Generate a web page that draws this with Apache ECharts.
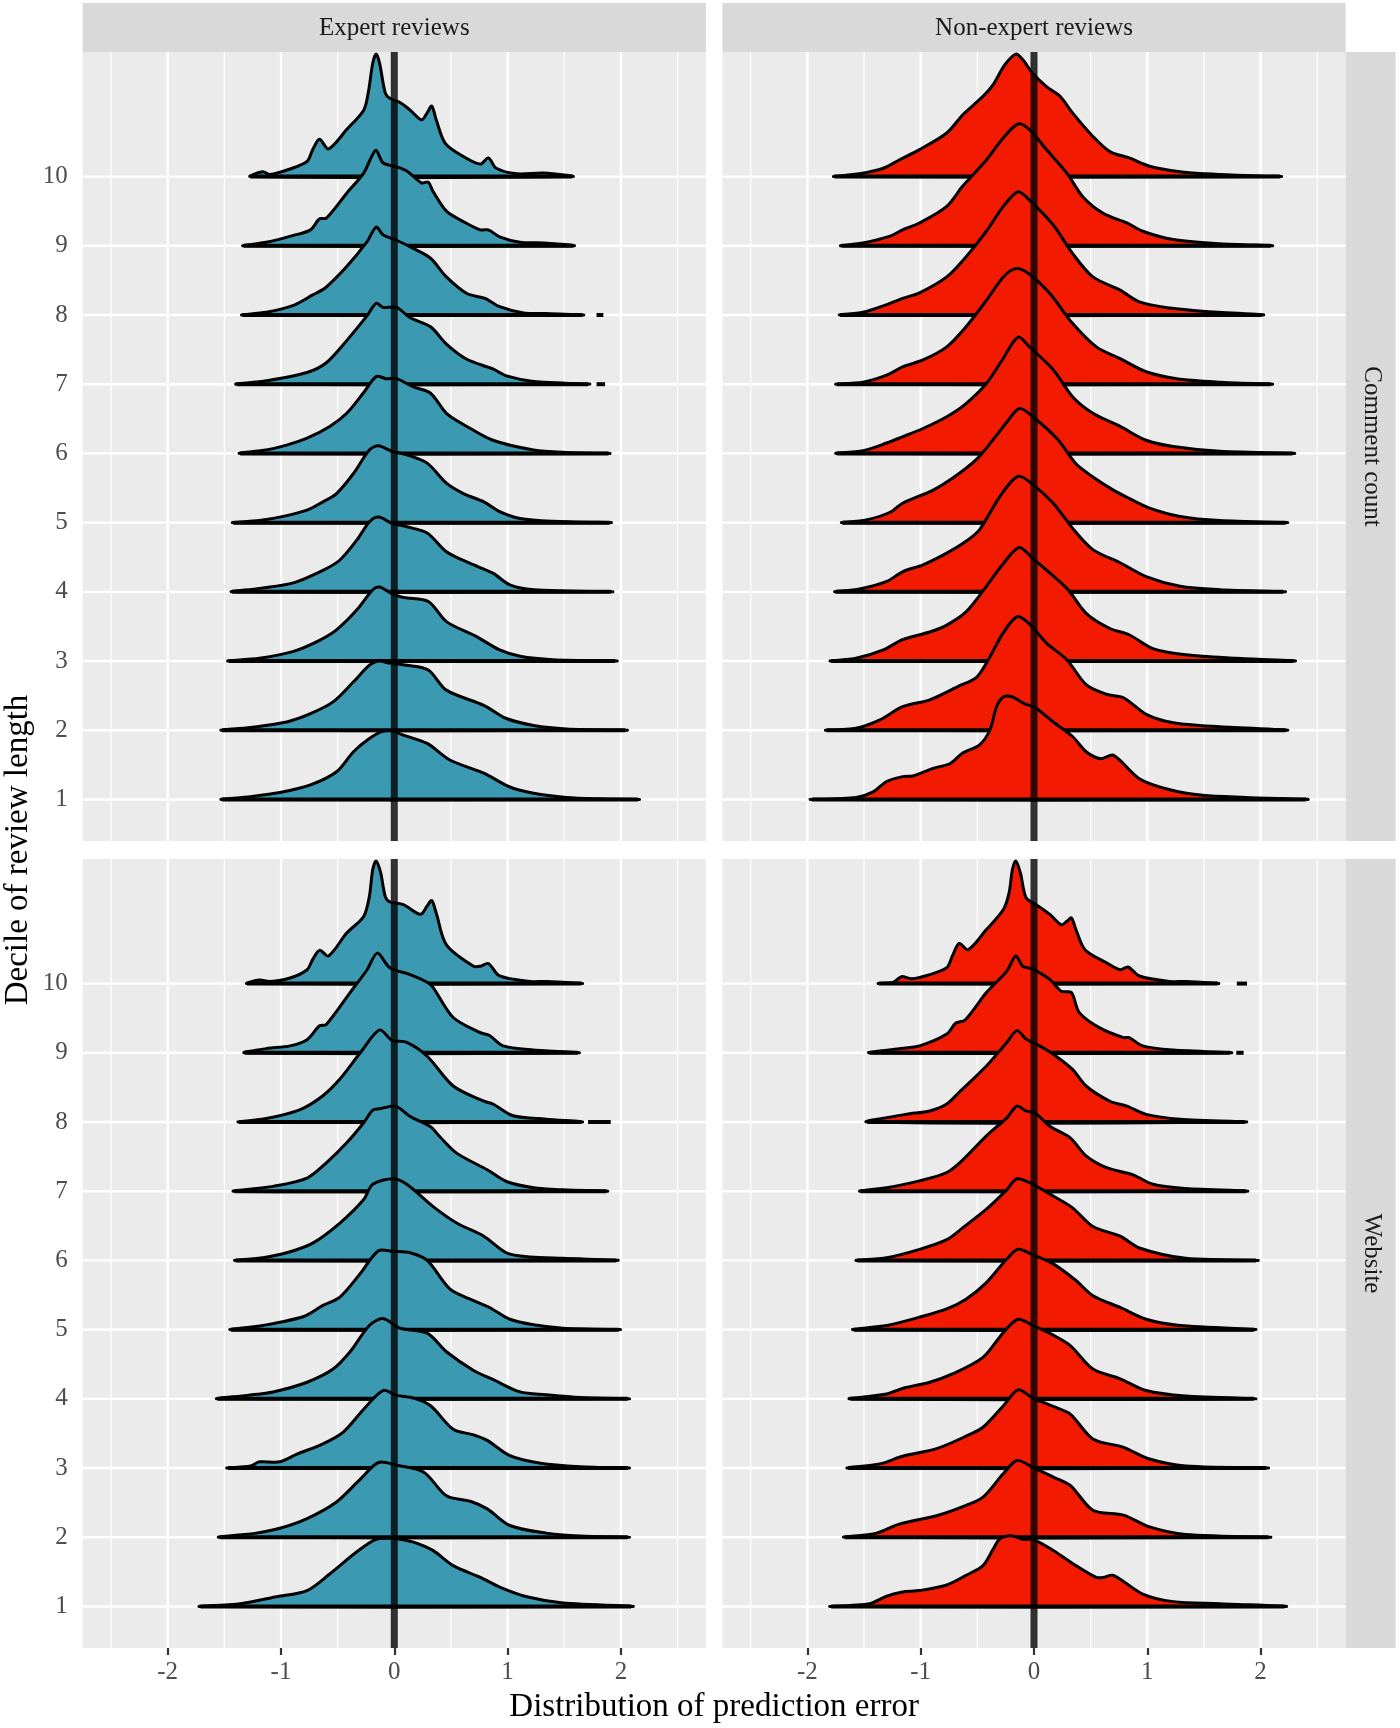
<!DOCTYPE html>
<html>
<head>
<meta charset="utf-8">
<script src="https://cdn.jsdelivr.net/npm/echarts@6/dist/echarts.min.js"></script>
<style>
html,body{margin:0;padding:0;background:#ffffff;}
#chart{width:1400px;height:1728px;}
</style>
</head>
<body>
<div id="chart"></div>
<script>
// ---------------- DATA ----------------
const reviewerTypes = ['Expert reviews', 'Non-expert reviews'];
const splitBy = ['Comment count', 'Website'];
const deciles = [1, 2, 3, 4, 5, 6, 7, 8, 9, 10];
const xTickValues = [-2, -1, 0, 1, 2];
const xMinorValues = [-2.5, -1.5, -0.5, 0.5, 1.5, 2.5];
const referenceLine = [0];
const xTitle = 'Distribution of prediction error';
const yTitle = 'Decile of review length';

// Each ridge: [prediction error, density height in decile units]; index 0 = decile 1
const expertCommentRidges = [
  [[-1.52,0],[-1.27,0.04],[-1.01,0.10],[-0.74,0.21],[-0.51,0.40],[-0.36,0.69],[-0.22,0.88],[-0.11,0.98],[-0.02,0.99],[0.08,0.93],[0.29,0.81],[0.49,0.57],[0.79,0.38],[1.02,0.18],[1.23,0.09],[1.52,0.03],[1.80,0.01],[2.15,0]],
  [[-1.52,0],[-1.27,0.04],[-0.95,0.12],[-0.74,0.24],[-0.54,0.41],[-0.36,0.70],[-0.22,0.94],[-0.14,1.00],[-0.04,0.97],[0.11,0.94],[0.30,0.87],[0.46,0.58],[0.79,0.36],[0.99,0.17],[1.23,0.07],[1.52,0.02],[2.04,0]],
  [[-1.46,0],[-1.19,0.04],[-0.89,0.14],[-0.66,0.30],[-0.51,0.45],[-0.33,0.74],[-0.19,1.03],[-0.13,1.07],[-0.04,0.99],[0.08,0.92],[0.30,0.86],[0.46,0.57],[0.73,0.35],[0.93,0.16],[1.11,0.07],[1.40,0.02],[1.95,0]],
  [[-1.43,0],[-1.19,0.05],[-0.89,0.13],[-0.63,0.31],[-0.48,0.46],[-0.33,0.75],[-0.22,1.01],[-0.14,1.08],[-0.02,0.99],[0.11,0.94],[0.29,0.85],[0.46,0.58],[0.67,0.41],[0.87,0.27],[1.02,0.10],[1.23,0.03],[1.91,0]],
  [[-1.42,0],[-1.19,0.03],[-0.98,0.09],[-0.77,0.18],[-0.63,0.30],[-0.51,0.42],[-0.36,0.71],[-0.22,1.05],[-0.14,1.11],[-0.02,1.03],[0.11,0.98],[0.29,0.86],[0.46,0.57],[0.61,0.42],[0.79,0.30],[0.93,0.16],[1.11,0.06],[1.40,0.02],[1.90,0]],
  [[-1.36,0],[-1.13,0.05],[-0.95,0.12],[-0.77,0.22],[-0.57,0.39],[-0.42,0.58],[-0.27,0.88],[-0.16,1.11],[-0.07,1.08],[0.02,1.08],[0.17,0.96],[0.32,0.87],[0.46,0.58],[0.64,0.39],[0.87,0.19],[1.23,0.05],[1.52,0.015],[1.89,0]],
  [[-1.39,0],[-1.13,0.05],[-0.77,0.17],[-0.60,0.31],[-0.42,0.63],[-0.24,0.99],[-0.16,1.17],[-0.10,1.11],[0.02,1.11],[0.14,0.96],[0.32,0.83],[0.46,0.58],[0.64,0.36],[0.87,0.22],[0.99,0.12],[1.23,0.04],[1.71,0]],
  [[-1.34,0],[-1.13,0.04],[-0.89,0.14],[-0.72,0.29],[-0.61,0.39],[-0.42,0.70],[-0.24,1.06],[-0.16,1.27],[-0.10,1.16],[0.02,1.08],[0.17,0.96],[0.32,0.82],[0.46,0.55],[0.64,0.31],[0.80,0.24],[0.93,0.12],[1.14,0.03],[1.34,0.02],[1.66,0]],
  [[-1.33,0],[-1.13,0.05],[-0.89,0.15],[-0.74,0.23],[-0.66,0.39],[-0.60,0.40],[-0.42,0.76],[-0.27,1.05],[-0.20,1.29],[-0.16,1.38],[-0.10,1.20],[0.02,1.14],[0.11,1.08],[0.24,0.91],[0.30,0.92],[0.34,0.79],[0.46,0.50],[0.61,0.35],[0.76,0.23],[0.83,0.23],[0.93,0.13],[1.11,0.05],[1.32,0.04],[1.58,0]],
  [[-1.27,0],[-1.16,0.07],[-1.10,0.03],[-0.92,0.11],[-0.77,0.22],[-0.72,0.39],[-0.66,0.54],[-0.58,0.40],[-0.42,0.68],[-0.27,0.96],[-0.23,1.21],[-0.19,1.64],[-0.16,1.77],[-0.13,1.64],[-0.08,1.21],[-0.04,1.13],[0.05,1.07],[0.14,0.96],[0.24,0.82],[0.29,0.92],[0.33,1.02],[0.37,0.82],[0.45,0.48],[0.61,0.29],[0.76,0.18],[0.83,0.27],[0.90,0.12],[1.08,0.04],[1.32,0.05],[1.57,0]]
];

const nonExpertCommentRidges = [
  [[-1.96,0],[-1.57,0.03],[-1.42,0.11],[-1.30,0.26],[-1.16,0.33],[-1.07,0.34],[-0.89,0.45],[-0.74,0.52],[-0.63,0.67],[-0.48,0.79],[-0.39,1.00],[-0.33,1.34],[-0.27,1.48],[-0.19,1.48],[-0.08,1.38],[0.01,1.33],[0.17,1.12],[0.34,0.91],[0.46,0.69],[0.59,0.59],[0.70,0.64],[0.93,0.30],[1.20,0.14],[1.49,0.06],[1.87,0.03],[2.40,0]],
  [[-1.83,0],[-1.57,0.03],[-1.36,0.15],[-1.16,0.34],[-0.92,0.44],[-0.66,0.64],[-0.51,0.76],[-0.42,0.97],[-0.27,1.41],[-0.15,1.64],[-0.05,1.55],[0.11,1.26],[0.29,1.02],[0.46,0.66],[0.64,0.52],[0.79,0.47],[0.99,0.23],[1.23,0.11],[1.64,0.05],[2.22,0]],
  [[-1.79,0],[-1.57,0.04],[-1.33,0.16],[-1.16,0.31],[-0.92,0.42],[-0.77,0.52],[-0.60,0.71],[-0.42,1.08],[-0.27,1.41],[-0.13,1.64],[-0.01,1.48],[0.29,1.05],[0.46,0.69],[0.67,0.47],[0.84,0.38],[1.05,0.18],[1.34,0.09],[1.79,0.04],[2.29,0]],
  [[-1.75,0],[-1.54,0.04],[-1.30,0.15],[-1.16,0.29],[-0.98,0.39],[-0.77,0.56],[-0.60,0.73],[-0.48,0.90],[-0.30,1.38],[-0.14,1.67],[-0.01,1.55],[0.17,1.28],[0.34,0.92],[0.52,0.61],[0.76,0.42],[0.99,0.22],[1.29,0.08],[1.64,0.03],[2.20,0]],
  [[-1.69,0],[-1.48,0.04],[-1.27,0.15],[-1.16,0.28],[-0.89,0.47],[-0.72,0.64],[-0.51,0.91],[-0.36,1.20],[-0.24,1.45],[-0.13,1.65],[-0.01,1.53],[0.21,1.20],[0.37,0.85],[0.52,0.66],[0.70,0.47],[0.84,0.35],[1.02,0.21],[1.29,0.09],[1.64,0.03],[2.22,0]],
  [[-1.74,0],[-1.51,0.04],[-1.30,0.15],[-1.16,0.24],[-0.98,0.36],[-0.77,0.53],[-0.60,0.72],[-0.42,1.01],[-0.28,1.35],[-0.14,1.68],[-0.04,1.54],[0.17,1.21],[0.34,0.82],[0.52,0.58],[0.76,0.39],[0.99,0.19],[1.23,0.10],[1.64,0.03],[2.28,0]],
  [[-1.74,0],[-1.51,0.03],[-1.30,0.13],[-1.16,0.25],[-0.98,0.35],[-0.77,0.54],[-0.60,0.83],[-0.42,1.21],[-0.27,1.55],[-0.16,1.67],[-0.04,1.59],[0.14,1.31],[0.34,0.88],[0.55,0.54],[0.76,0.37],[0.99,0.18],[1.26,0.08],[1.64,0.03],[2.09,0]],
  [[-1.71,0],[-1.51,0.04],[-1.30,0.15],[-1.16,0.24],[-1.01,0.32],[-0.77,0.55],[-0.60,0.84],[-0.42,1.21],[-0.27,1.57],[-0.14,1.78],[-0.04,1.66],[0.17,1.30],[0.34,0.89],[0.52,0.55],[0.76,0.36],[0.93,0.19],[1.20,0.10],[1.52,0.05],[2.01,0]],
  [[-1.70,0],[-1.51,0.04],[-1.27,0.14],[-1.16,0.23],[-1.01,0.33],[-0.77,0.57],[-0.63,0.86],[-0.42,1.24],[-0.27,1.56],[-0.14,1.76],[-0.04,1.68],[0.11,1.39],[0.29,1.05],[0.43,0.71],[0.61,0.47],[0.82,0.33],[0.96,0.21],[1.23,0.09],[1.64,0.03],[2.09,0]],
  [[-1.76,0],[-1.54,0.04],[-1.33,0.12],[-1.19,0.24],[-1.01,0.39],[-0.77,0.63],[-0.63,0.89],[-0.45,1.16],[-0.36,1.33],[-0.26,1.61],[-0.16,1.77],[-0.10,1.69],[-0.01,1.49],[0.11,1.30],[0.23,1.16],[0.34,0.92],[0.52,0.58],[0.67,0.36],[0.84,0.27],[1.02,0.15],[1.29,0.07],[1.52,0.04],[1.79,0.02],[2.17,0]]
];

const expertWebsiteRidges = [
  [[-1.71,0],[-1.36,0.04],[-1.04,0.14],[-0.77,0.23],[-0.57,0.47],[-0.33,0.79],[-0.16,0.97],[0.02,0.98],[0.17,0.93],[0.34,0.81],[0.52,0.59],[0.76,0.42],[0.93,0.28],[1.17,0.14],[1.49,0.05],[2.09,0]],
  [[-1.54,0],[-1.22,0.06],[-1.01,0.13],[-0.77,0.27],[-0.51,0.51],[-0.30,0.84],[-0.14,1.08],[0.02,1.04],[0.26,0.94],[0.46,0.60],[0.67,0.52],[0.82,0.41],[1.02,0.17],[1.34,0.06],[1.64,0.02],[2.06,0]],
  [[-1.47,0],[-1.27,0.03],[-1.19,0.09],[-1.01,0.09],[-0.86,0.20],[-0.63,0.35],[-0.45,0.52],[-0.27,0.85],[-0.10,1.12],[0.02,1.05],[0.17,1.01],[0.32,0.90],[0.52,0.56],[0.70,0.48],[0.82,0.40],[1.02,0.18],[1.29,0.07],[1.64,0.02],[2.06,0]],
  [[-1.56,0],[-1.30,0.05],[-1.07,0.10],[-0.77,0.24],[-0.54,0.43],[-0.39,0.68],[-0.22,1.06],[-0.10,1.16],[0.05,1.02],[0.29,0.95],[0.46,0.68],[0.70,0.41],[0.87,0.28],[1.11,0.10],[1.34,0.06],[1.64,0.02],[2.06,0]],
  [[-1.44,0],[-1.16,0.06],[-0.80,0.19],[-0.63,0.35],[-0.48,0.47],[-0.30,0.81],[-0.14,1.14],[-0.01,1.13],[0.14,1.11],[0.29,1.00],[0.49,0.59],[0.67,0.44],[0.84,0.32],[1.02,0.15],[1.23,0.07],[1.49,0.02],[1.98,0]],
  [[-1.40,0],[-1.16,0.04],[-0.95,0.11],[-0.72,0.25],[-0.48,0.54],[-0.27,0.88],[-0.19,1.10],[-0.01,1.18],[0.11,1.10],[0.34,0.78],[0.55,0.54],[0.79,0.35],[0.99,0.11],[1.20,0.05],[1.49,0.03],[1.96,0]],
  [[-1.41,0],[-1.07,0.07],[-0.77,0.19],[-0.60,0.41],[-0.42,0.70],[-0.27,0.99],[-0.19,1.17],[-0.13,1.19],[0.01,1.23],[0.14,1.08],[0.32,0.93],[0.40,0.79],[0.55,0.55],[0.82,0.31],[0.99,0.14],[1.23,0.05],[1.49,0.02],[1.87,0]],
  [[-1.37,0],[-1.13,0.05],[-0.83,0.18],[-0.63,0.38],[-0.48,0.62],[-0.30,1.00],[-0.13,1.33],[-0.02,1.18],[0.11,1.15],[0.29,0.95],[0.52,0.52],[0.79,0.30],[0.87,0.26],[1.05,0.09],[1.34,0.04],[1.65,0]],
  [[-1.32,0],[-1.13,0.06],[-0.92,0.10],[-0.77,0.19],[-0.66,0.39],[-0.60,0.41],[-0.39,0.87],[-0.24,1.20],[-0.15,1.44],[-0.04,1.23],[0.14,1.13],[0.29,1.02],[0.34,0.95],[0.52,0.51],[0.76,0.29],[0.84,0.25],[0.96,0.10],[1.23,0.04],[1.62,0]],
  [[-1.30,0],[-1.19,0.05],[-1.10,0.03],[-0.92,0.08],[-0.77,0.20],[-0.72,0.35],[-0.66,0.48],[-0.58,0.40],[-0.42,0.73],[-0.27,0.97],[-0.22,1.26],[-0.19,1.65],[-0.16,1.77],[-0.12,1.60],[-0.08,1.26],[-0.04,1.18],[0.08,1.14],[0.23,1.00],[0.29,1.12],[0.33,1.20],[0.37,1.02],[0.46,0.56],[0.70,0.25],[0.76,0.25],[0.83,0.29],[0.93,0.11],[1.20,0.03],[1.34,0.03],[1.65,0]]
];

const nonExpertWebsiteRidges = [
  [[-1.79,0],[-1.45,0.04],[-1.30,0.15],[-1.16,0.21],[-1.01,0.23],[-0.77,0.31],[-0.60,0.45],[-0.45,0.59],[-0.36,0.83],[-0.30,0.98],[-0.19,1.02],[-0.10,0.97],[-0.01,0.97],[0.17,0.81],[0.37,0.59],[0.55,0.42],[0.61,0.42],[0.70,0.45],[0.96,0.18],[1.23,0.07],[1.64,0.04],[2.21,0]],
  [[-1.67,0],[-1.39,0.06],[-1.19,0.19],[-0.86,0.31],[-0.60,0.46],[-0.45,0.58],[-0.27,0.92],[-0.15,1.11],[-0.01,1.01],[0.17,0.87],[0.32,0.75],[0.52,0.39],[0.79,0.32],[1.02,0.15],[1.34,0.04],[2.07,0]],
  [[-1.64,0],[-1.36,0.06],[-1.16,0.17],[-0.86,0.28],[-0.60,0.46],[-0.45,0.59],[-0.27,0.90],[-0.14,1.13],[-0.01,1.01],[0.17,0.89],[0.32,0.78],[0.52,0.42],[0.79,0.30],[1.02,0.13],[1.34,0.03],[2.05,0]],
  [[-1.62,0],[-1.30,0.07],[-1.16,0.15],[-0.92,0.24],[-0.72,0.36],[-0.45,0.60],[-0.27,0.96],[-0.14,1.15],[-0.01,1.06],[0.17,0.92],[0.32,0.77],[0.52,0.43],[0.76,0.29],[0.99,0.12],[1.34,0.04],[1.94,0]],
  [[-1.59,0],[-1.30,0.06],[-1.01,0.18],[-0.77,0.30],[-0.60,0.44],[-0.42,0.68],[-0.24,1.02],[-0.14,1.16],[-0.01,1.08],[0.17,0.95],[0.37,0.71],[0.52,0.49],[0.76,0.32],[0.99,0.15],[1.29,0.06],[1.94,0]],
  [[-1.56,0],[-1.30,0.04],[-1.01,0.16],[-0.77,0.30],[-0.63,0.47],[-0.42,0.74],[-0.24,1.02],[-0.15,1.18],[-0.01,1.10],[0.17,0.93],[0.34,0.76],[0.52,0.49],[0.76,0.35],[0.93,0.18],[1.34,0.03],[1.96,0]],
  [[-1.53,0],[-1.30,0.05],[-1.01,0.15],[-0.77,0.27],[-0.63,0.45],[-0.42,0.80],[-0.24,1.06],[-0.15,1.23],[-0.07,1.16],[0.01,1.13],[0.14,0.94],[0.32,0.77],[0.46,0.51],[0.64,0.34],[0.87,0.24],[1.05,0.10],[1.34,0.04],[1.87,0]],
  [[-1.47,0],[-1.13,0.11],[-0.92,0.16],[-0.77,0.26],[-0.66,0.43],[-0.42,0.81],[-0.24,1.15],[-0.15,1.32],[-0.07,1.20],[0.05,1.10],[0.17,0.98],[0.34,0.76],[0.46,0.52],[0.67,0.30],[0.82,0.23],[0.99,0.11],[1.29,0.04],[1.86,0]],
  [[-1.45,0],[-1.19,0.06],[-1.01,0.10],[-0.77,0.27],[-0.69,0.43],[-0.61,0.47],[-0.42,0.87],[-0.24,1.18],[-0.16,1.40],[-0.10,1.25],[-0.01,1.21],[0.14,1.06],[0.24,0.89],[0.33,0.87],[0.40,0.58],[0.58,0.36],[0.79,0.22],[0.84,0.22],[0.96,0.10],[1.23,0.04],[1.73,0]],
  [[-1.37,0],[-1.24,0.02],[-1.17,0.10],[-1.08,0.07],[-0.92,0.13],[-0.77,0.23],[-0.72,0.40],[-0.66,0.58],[-0.58,0.49],[-0.42,0.78],[-0.27,1.07],[-0.22,1.31],[-0.19,1.65],[-0.16,1.77],[-0.12,1.60],[-0.07,1.24],[0.02,1.14],[0.14,1.00],[0.24,0.85],[0.29,0.90],[0.33,0.95],[0.37,0.78],[0.45,0.49],[0.64,0.30],[0.76,0.20],[0.83,0.24],[0.93,0.11],[1.20,0.03],[1.34,0.03],[1.62,0]]
];

// isolated baseline pieces beyond the main ridge: [panel, decile, from, to]
const baselineTails = [
  [0, 8, 1.785, 1.845],
  [0, 7, 1.785, 1.86],
  [2, 8, 1.71, 1.91],
  [3, 10, 1.79, 1.88],
  [3, 9, 1.785, 1.85]
];

// ---------------- LAYOUT / STYLE ----------------
const ridgeSets = [expertCommentRidges, nonExpertCommentRidges, expertWebsiteRidges, nonExpertWebsiteRidges];
const fillColors = ['#3B9AB2', '#F21A00'];
const PANEL_LEFT = [82.7, 722.4];
const PANEL_TOP = [52, 859];
const PANEL_W = 623.2;
const PANEL_H = 789;
const X_MIN = -2.75, X_MAX = 2.75;
const Y_MIN = 0.4, Y_MAX = 11.8;
const SERIF = "'Liberation Serif', 'Times New Roman', serif";

function gridLineSeries(p, values, dir, width) {
  return {
    type: 'custom', xAxisIndex: p, yAxisIndex: p, z: 1, silent: true, animation: false,
    data: values.map(v => dir === 'x' ? [v, Y_MIN] : [X_MIN, v]),
    renderItem: (params, api) => {
      const v = api.value(dir === 'x' ? 0 : 1);
      const a = api.coord(dir === 'x' ? [v, Y_MIN] : [X_MIN, v]);
      const b = api.coord(dir === 'x' ? [v, Y_MAX] : [X_MAX, v]);
      return { type: 'line', shape: { x1: a[0], y1: a[1], x2: b[0], y2: b[1] },
               style: { stroke: '#FFFFFF', lineWidth: width } };
    }
  };
}

const grids = [], xAxes = [], yAxes = [], series = [];
for (let p = 0; p < 4; p++) {
  const col = p % 2, row = Math.floor(p / 2);
  const showX = row === 1, showY = col === 0;
  grids.push({ left: PANEL_LEFT[col], top: PANEL_TOP[row], width: PANEL_W, height: PANEL_H,
               show: true, backgroundColor: '#EBEBEB', borderWidth: 0 });
  xAxes.push({
    gridIndex: p, type: 'value', min: X_MIN, max: X_MAX,
    axisLine: { show: false }, splitLine: { show: false }, minorTick: { show: false },
    axisTick: { show: showX, customValues: xTickValues, length: 7, lineStyle: { color: '#333333', width: 2.2 } },
    axisLabel: { show: showX, customValues: xTickValues, color: '#4D4D4D', fontSize: 25, fontFamily: SERIF, margin: 12 }
  });
  yAxes.push({
    gridIndex: p, type: 'value', min: Y_MIN, max: Y_MAX,
    axisLine: { show: false }, splitLine: { show: false },
    axisTick: { show: showY, customValues: deciles, length: 7, lineStyle: { color: '#333333', width: 2.2 } },
    axisLabel: { show: showY, customValues: deciles, color: '#4D4D4D', fontSize: 25, fontFamily: SERIF, margin: 15 }
  });

  series.push(gridLineSeries(p, xMinorValues, 'x', 1.2));
  series.push(gridLineSeries(p, xTickValues, 'x', 2.4));
  series.push(gridLineSeries(p, deciles, 'y', 2.4));

  const fill = fillColors[col];
  ridgeSets[p].forEach((pts, i) => {
    const d = deciles[i];
    const tails = baselineTails.filter(t => t[0] === p && t[1] === d);
    series.push({
      type: 'custom', xAxisIndex: p, yAxisIndex: p, z: 3 + (10 - d), silent: true, animation: false,
      data: pts.map(q => [q[0], d + q[1]]),
      renderItem: (params, api) => {
        if (params.dataIndex !== 0) return null;
        const poly = pts.map(q => api.coord([q[0], d + q[1]]));
        const b0 = api.coord([pts[0][0], d]);
        const b1 = api.coord([pts[pts.length - 1][0], d]);
        const children = [
          { type: 'polygon', shape: { points: poly, smooth: 0.3 },
            style: { fill: fill, stroke: '#000000', lineWidth: 3, lineJoin: 'round' } },
          { type: 'line', shape: { x1: b0[0], y1: b0[1], x2: b1[0], y2: b1[1] },
            style: { stroke: '#000000', lineWidth: 4 } }
        ];
        tails.forEach(t => {
          const a = api.coord([t[2], d]), b = api.coord([t[3], d]);
          children.push({ type: 'line', shape: { x1: a[0], y1: a[1], x2: b[0], y2: b[1] },
                          style: { stroke: '#000000', lineWidth: 4 } });
        });
        return { type: 'group', children: children };
      }
    });
  });

  series.push({
    type: 'custom', xAxisIndex: p, yAxisIndex: p, z: 30, silent: true, animation: false,
    data: referenceLine.map(v => [v, Y_MIN]),
    renderItem: (params, api) => {
      const v = api.value(0);
      const a = api.coord([v, Y_MIN]), b = api.coord([v, Y_MAX]);
      return { type: 'line', shape: { x1: a[0], y1: a[1], x2: b[0], y2: b[1] },
               style: { stroke: 'rgba(0,0,0,0.8)', lineWidth: 7 } };
    }
  });
}

const graphics = [];
reviewerTypes.forEach((name, c) => {
  graphics.push({ type: 'rect', silent: true, shape: { x: PANEL_LEFT[c], y: 3, width: PANEL_W, height: 49 },
                  style: { fill: '#D9D9D9' } });
  graphics.push({ type: 'text', silent: true, x: PANEL_LEFT[c] + PANEL_W / 2, y: 28,
                  style: { text: name, fill: '#1A1A1A', font: '25px ' + SERIF, align: 'center', verticalAlign: 'middle' } });
});
splitBy.forEach((name, r) => {
  graphics.push({ type: 'rect', silent: true, shape: { x: PANEL_LEFT[1] + PANEL_W, y: PANEL_TOP[r], width: 50, height: PANEL_H },
                  style: { fill: '#D9D9D9' } });
  graphics.push({ type: 'text', silent: true, x: PANEL_LEFT[1] + PANEL_W + 26, y: PANEL_TOP[r] + PANEL_H / 2,
                  rotation: -Math.PI / 2,
                  style: { text: name, fill: '#1A1A1A', font: '25px ' + SERIF, align: 'center', verticalAlign: 'middle' } });
});
graphics.push({ type: 'text', silent: true, x: (PANEL_LEFT[0] + PANEL_LEFT[1] + PANEL_W) / 2, y: 1707,
                style: { text: xTitle, fill: '#000000', font: '33px ' + SERIF, align: 'center', verticalAlign: 'middle' } });
graphics.push({ type: 'text', silent: true, x: 18, y: (PANEL_TOP[0] + PANEL_TOP[1] + PANEL_H) / 2,
                rotation: Math.PI / 2,
                style: { text: yTitle, fill: '#000000', font: '33px ' + SERIF, align: 'center', verticalAlign: 'middle' } });

const chart = echarts.init(document.getElementById('chart'), null, { renderer: 'canvas', width: 1400, height: 1728 });
chart.setOption({
  backgroundColor: '#FFFFFF',
  animation: false,
  grid: grids,
  xAxis: xAxes,
  yAxis: yAxes,
  series: series,
  graphic: graphics
});
</script>
</body>
</html>
